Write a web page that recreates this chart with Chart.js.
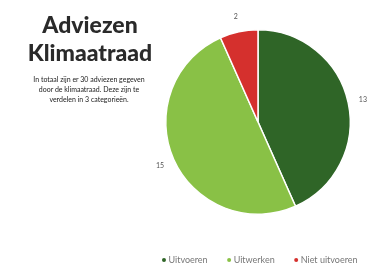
<!DOCTYPE html>
<html>
<head>
<meta charset="utf-8">
<script src="https://cdn.jsdelivr.net/npm/chart.js@4/dist/chart.umd.min.js"></script>
<style>
  html, body { margin: 0; padding: 0; background: #ffffff; }
  #wrap { position: relative; width: 371px; height: 266px; overflow: hidden; }
  #c { position: absolute; left: 0; top: 0; }
  #title { position: absolute; left: 0; top: 10px; width: 180px; text-align: center;
           font-family: Lato, "Open Sans", sans-serif; font-weight: 900; font-size: 23px;
           line-height: 28px; color: #2a2a2a; }
  #desc { position: absolute; left: 10px; top: 74px; width: 158px; text-align: center;
          font-family: Lato, "Open Sans", sans-serif; font-size: 7px; line-height: 10px; color: #222222; }
</style>
</head>
<body>
<div id="wrap">
  <canvas id="c" width="371" height="266"></canvas>
  <div id="title">Adviezen<br>Klimaatraad</div>
  <div id="desc">In totaal zijn er 30 adviezen gegeven<br>door de klimaatraad. Deze zijn te<br>verdelen in 3 categorieën.</div>
</div>
<script>
const categories = ["Uitvoeren", "Uitwerken", "Niet uitvoeren"];
const adviceCounts = [13, 15, 2];
const sliceColors = ["#2f6527", "#89c146", "#d5302d"];

const outsideLabels = {
  id: 'outsideLabels',
  afterDatasetsDraw(chart) {
    const ctx = chart.ctx;
    const meta = chart.getDatasetMeta(0);
    ctx.save();
    ctx.font = '7px Lato, "Open Sans", sans-serif';
    ctx.fillStyle = '#555555';
    ctx.textAlign = 'center';
    ctx.textBaseline = 'middle';
    meta.data.forEach((arc, i) => {
      const mid = (arc.startAngle + arc.endAngle) / 2;
      const r = arc.outerRadius + 15;
      ctx.fillText(String(chart.data.datasets[0].data[i]), arc.x + Math.cos(mid) * r, arc.y + Math.sin(mid) * r);
    });
    ctx.restore();
  }
};

const customLegend = {
  id: 'customLegend',
  afterDraw(chart) {
    const ctx = chart.ctx;
    ctx.save();
    ctx.font = '9px Lato, "Open Sans", sans-serif';
    ctx.textBaseline = 'middle';
    const gap = 20, dotGap = 6, y = 260;
    const labels = chart.data.labels;
    const widths = labels.map(l => ctx.measureText(l).width + dotGap);
    const total = widths.reduce((a, b) => a + b, 0) + gap * (labels.length - 1);
    let x = 260 - total / 2;
    labels.forEach((l, i) => {
      ctx.fillStyle = chart.data.datasets[0].backgroundColor[i];
      ctx.beginPath();
      ctx.arc(x + 1.5, y, 2, 0, Math.PI * 2);
      ctx.fill();
      ctx.fillStyle = '#777777';
      ctx.fillText(l, x + dotGap, y);
      x += widths[i] + gap;
    });
    ctx.restore();
  }
};

new Chart(document.getElementById('c'), {
  type: 'pie',
  data: {
    labels: categories,
    datasets: [{
      data: adviceCounts,
      backgroundColor: sliceColors,
      borderColor: '#ffffff',
      borderWidth: 1.5
    }]
  },
  options: {
    responsive: false,
    devicePixelRatio: 1,
    animation: false,
    layout: { padding: { left: 164, right: 19, top: 29, bottom: 51 } },
    plugins: { legend: { display: false }, tooltip: { enabled: false } }
  },
  plugins: [outsideLabels, customLegend]
});
</script>
</body>
</html>
